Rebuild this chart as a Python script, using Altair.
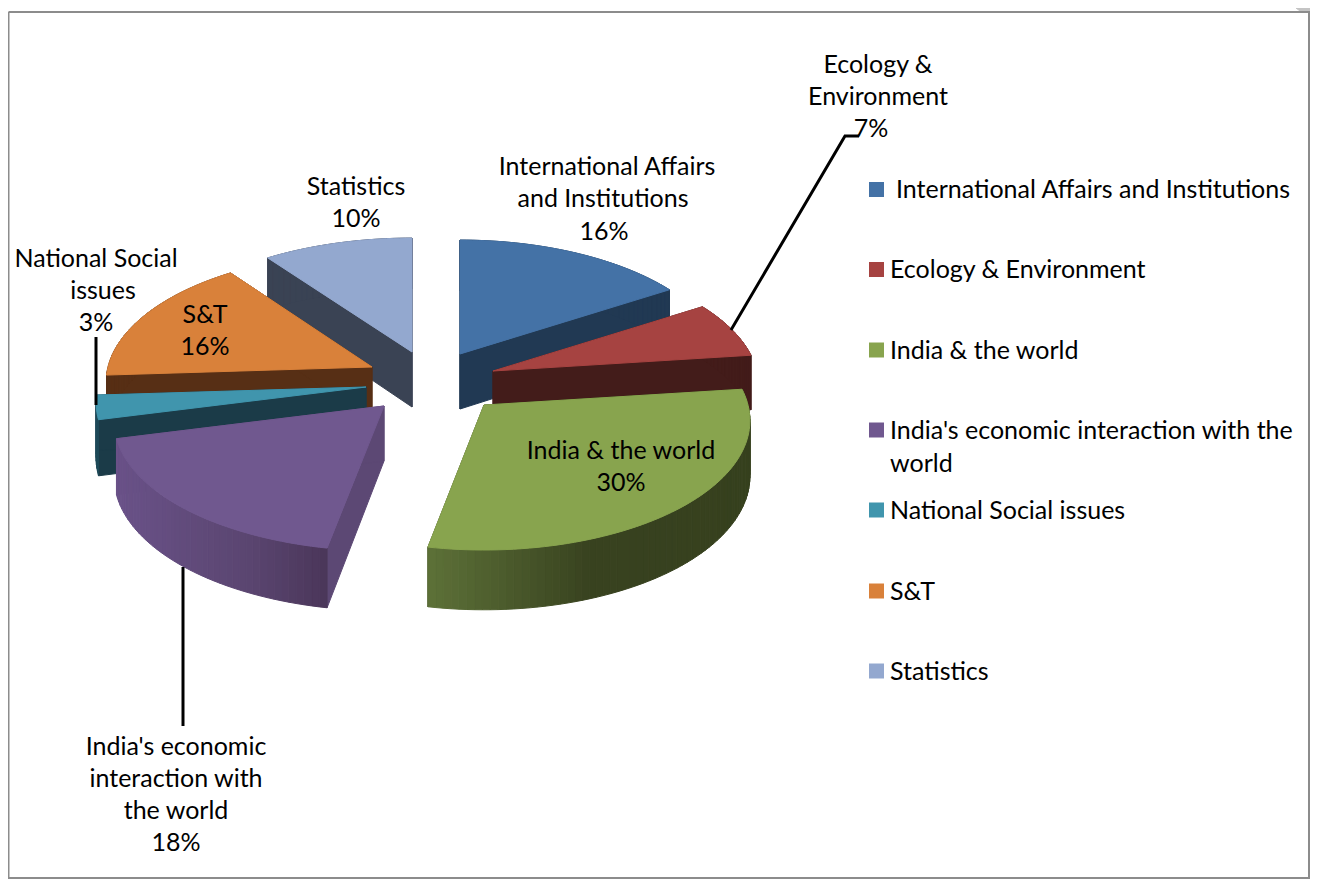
import math
import altair as alt
import numpy as np

# ---- chart values ----
names = ["International Affairs and Institutions", "Ecology & Environment", "India & the world",
         "India's economic interaction with the world", "National Social issues", "S&T", "Statistics"]
shares = [16, 7, 30, 18, 3, 16, 10]
top_colors = ["#4472a6", "#a64341", "#88a44e", "#70588f", "#4095ad", "#d9813a", "#93a8cf"]
wall_colors = ["#213953", "#431c1a", "#37421e", "#5c4874", "#1b3b48", "#572f15", "#3a4354"]
side_stops = [
    [(0, "#213953")], [(0, "#431c1a")],
    [(428, "#5d7138"), (590, "#38421f"), (760, "#36401e")],
    [(113, "#6a5289"), (250, "#5a4570"), (328, "#4a3659")],
    [(0, "#1f4a58")], [(0, "#572f15")], [(0, "#3a4354")],
]
draw_order = [0, 6, 5, 1, 4, 2, 3]
apex = [(460, 354), (493, 371), (484, 405), (384, 406), (366, 387), (372, 367), (412, 352)]
x_stretch = [1.0, 1.0, 1.0, 1.015, 1.015, 1.0, 1.02]

label_rows = [
    ("Ecology &", 878, 64), ("Environment", 878, 96), ("7%", 871, 128),
    ("International Affairs", 607, 166), ("and Institutions", 603, 198), ("16%", 604, 231),
    ("Statistics", 356, 186), ("10%", 356, 218),
    ("National Social", 96, 258), ("issues", 103, 290), ("3%", 96, 322),
    ("S&T", 205, 314), ("16%", 205, 346),
    ("India & the world", 621, 450), ("30%", 621, 482),
    ("India's economic", 176, 746), ("interaction with", 176, 778), ("the world", 176, 810), ("18%", 176, 842),
]
legend_rows = [
    ("International Affairs and Institutions", 896, 189),
    ("Ecology & Environment", 890, 269),
    ("India & the world", 890, 350),
    ("India's economic interaction with the", 890, 430),
    ("world", 890, 463),
    ("National Social issues", 890, 510),
    ("S&T", 890, 591),
    ("Statistics", 890, 671),
]
legend_y = [189.5, 269.5, 350, 430, 510, 591, 671]
leaders = [[(731, 330), (845, 136), (859, 136)], [(183, 567), (183, 726)], [(96, 337), (96, 405)]]

# ---- geometry ----
OFF = 8
TEXT_DY = 1
W, H = 1302, 871
RX, RY, PERSP = 264, 127.6, 0.12
FONT_SIZE = 25


def rim(ax, ay, deg, kx=1.0):
    t = math.radians(deg)
    y = math.cos(t)
    f = 1 / (1 + PERSP * y)
    return ax + RX * kx * math.sin(t) * f, ay - RY * y * f, 55 / (1 + 0.08 * y)


def poly(points, color):
    ring = [[float(px - OFF), float(py - OFF)] for px, py in points]
    ring.append(ring[0])
    return {"type": "Feature", "geometry": {"type": "Polygon", "coordinates": [ring]},
            "properties": {"c": color}}


def side_color(stops, x):
    xs = [s[0] for s in stops]
    rgb = [[int(s[1][i:i + 2], 16) for s in stops] for i in (1, 3, 5)]
    return "#%02x%02x%02x" % tuple(int(round(np.interp(x, xs, ch))) for ch in rgb)


edges = np.cumsum([0] + shares) * 3.6
features = []
for i in draw_order:
    ax, ay = apex[i]
    a0, a1 = float(edges[i]), float(edges[i + 1])
    steps = max(4, int((a1 - a0) / 1.5))
    arc = [rim(ax, ay, a0 + (a1 - a0) * k / steps, x_stretch[i]) for k in range(steps + 1)]
    for p in (arc[0], arc[-1]):
        features.append(poly([(ax, ay), (p[0], p[1]), (p[0], p[1] + p[2]), (ax, ay + 55)], wall_colors[i]))
    for p, q in zip(arc[:-1], arc[1:]):
        features.append(poly([(p[0], p[1]), (q[0], q[1]), (q[0], q[1] + q[2]), (p[0], p[1] + p[2])],
                             side_color(side_stops[i], (p[0] + q[0]) / 2)))
    features.append(poly([(ax, ay)] + [(p[0], p[1]) for p in arc], top_colors[i]))

# sheet frame and its resize handle
frame = [{"type": "Feature", "properties": {"c": "#8c8c8c"},
          "geometry": {"type": "LineString",
                       "coordinates": [[0.5, 4], [W - 1, 4], [W - 1, H - 1], [0.5, H - 1], [0.5, 4]]}}]
handles = [poly([(1296, 8), (1310, 8), (1310, 11), (1300, 11)], "#c4c4c4")]

proj = dict(type="identity", scale=1, translate=[0, 0])

shapes = alt.Chart(alt.Data(values=handles + features)).mark_geoshape(strokeWidth=1).encode(
    fill=alt.Color("properties.c:N", scale=None, legend=None),
    stroke=alt.Stroke("properties.c:N", scale=None, legend=None),
).project(**proj)

frame_layer = alt.Chart(alt.Data(values=frame)).mark_geoshape(
    filled=False, stroke="#8c8c8c", strokeWidth=2).project(**proj)

leader_feats = [{"type": "Feature", "properties": {},
                 "geometry": {"type": "LineString",
                              "coordinates": [[a - OFF, b - OFF] for a, b in seg]}} for seg in leaders]
leader_layer = alt.Chart(alt.Data(values=leader_feats)).mark_geoshape(
    filled=False, stroke="#000000", strokeWidth=3).project(**proj)

text_rows = [{"t": t, "x": x - OFF, "y": y - OFF + TEXT_DY} for t, x, y in label_rows]
labels = alt.Chart(alt.Data(values=text_rows)).mark_text(
    font="Lato", fontSize=FONT_SIZE, color="#000000", align="center", baseline="middle").encode(
    x=alt.X("x:Q", scale=None, axis=None), y=alt.Y("y:Q", scale=None, axis=None), text="t:N")

leg_rows = [{"t": t, "x": x - OFF, "y": y - OFF + TEXT_DY} for t, x, y in legend_rows]
legend_text = alt.Chart(alt.Data(values=leg_rows)).mark_text(
    font="Lato", fontSize=FONT_SIZE, color="#000000", align="left", baseline="middle").encode(
    x=alt.X("x:Q", scale=None, axis=None), y=alt.Y("y:Q", scale=None, axis=None), text="t:N")

sw = [{"x": 876.5 - OFF, "y": y - OFF, "c": c} for y, c in zip(legend_y, top_colors)]
swatches = alt.Chart(alt.Data(values=sw)).mark_square(size=225, opacity=1).encode(
    x=alt.X("x:Q", scale=None, axis=None), y=alt.Y("y:Q", scale=None, axis=None),
    color=alt.Color("c:N", scale=None, legend=None))

chart = alt.layer(shapes, frame_layer, leader_layer, labels, legend_text, swatches).properties(
    width=W, height=H, padding=0, background="#ffffff",
    autosize=alt.AutoSizeParams(type="none"),
).configure_view(stroke=None)

chart.save("out.html", embed_options={"renderer": "svg", "actions": False})
